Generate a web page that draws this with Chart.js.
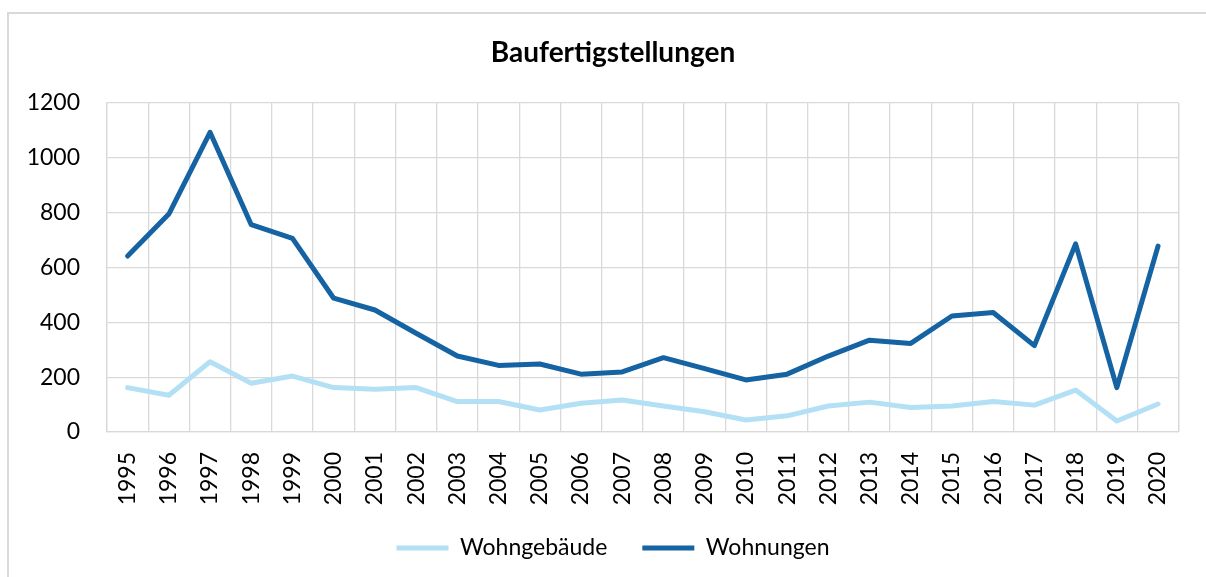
<!DOCTYPE html>
<html lang="de">
<head>
<meta charset="utf-8">
<title>Baufertigstellungen</title>
<script src="https://cdn.jsdelivr.net/npm/chart.js@4/dist/chart.umd.min.js"></script>
<style>
  html, body { margin: 0; padding: 0; background: #ffffff; overflow: hidden; }
  #frame {
    position: absolute; left: 7px; top: 12px; width: 1400px; height: 800px;
    border: 2px solid #d9d9d9; box-sizing: border-box;
  }
  #wrap { position: absolute; left: 0; top: 0; width: 1206px; height: 577px; }
</style>
</head>
<body>
<div id="frame"></div>
<div id="wrap"><canvas id="chart" width="1206" height="577"></canvas></div>
<script>
// Fertiggestellte Wohngebäude und Wohnungen je Jahr
const years = ['1995','1996','1997','1998','1999','2000','2001','2002','2003','2004','2005','2006','2007',
               '2008','2009','2010','2011','2012','2013','2014','2015','2016','2017','2018','2019','2020'];
const wohngebaeude = [162, 134, 256, 178, 204, 162, 156, 162, 111, 111, 80, 105, 117,
                      95, 74, 44, 59, 95, 109, 89, 95, 111, 98, 153, 40, 102];
const wohnungen = [642, 795, 1093, 756, 706, 488, 445, 360, 277, 243, 248, 211, 219,
                   271, 231, 190, 211, 277, 335, 323, 423, 436, 315, 686, 162, 678];
const yTicks = [0, 200, 400, 600, 800, 1000, 1200];

const FONT = 'Lato, "Open Sans", sans-serif';
const GRID = '#d9d9d9';

// tick labels may reach past the axis box (long rotated years, 4-digit values)
const noLabelClip = () => undefined;

new Chart(document.getElementById('chart'), {
  type: 'line',
  data: {
    labels: years,
    datasets: [
      {
        label: 'Wohngebäude',
        data: wohngebaeude,
        borderColor: '#b4e0f5',
        backgroundColor: '#b4e0f5',
        borderWidth: 5,
        borderCapStyle: 'round',
        borderJoinStyle: 'round',
        pointRadius: 0,
        tension: 0
      },
      {
        label: 'Wohnungen',
        data: wohnungen,
        borderColor: '#1563a2',
        backgroundColor: '#1563a2',
        borderWidth: 5,
        borderCapStyle: 'round',
        borderJoinStyle: 'round',
        pointRadius: 0,
        tension: 0
      }
    ]
  },
  options: {
    responsive: false,
    animation: false,
    events: [],
    layout: { padding: { left: 39, right: 19, top: 0, bottom: 7.5 } },
    plugins: {
      title: {
        display: true,
        text: 'Baufertigstellungen',
        color: '#000000',
        font: { family: FONT, size: 28, weight: 'bold', lineHeight: 1.2 },
        padding: { top: 36.6, bottom: 32.8 }
      },
      legend: {
        position: 'bottom',
        labels: {
          color: '#000000',
          font: { family: FONT, size: 23 },
          usePointStyle: true,
          pointStyle: 'line',
          pointStyleWidth: 52,
          padding: 35
        }
      },
      tooltip: { enabled: false }
    },
    scales: {
      x: {
        type: 'category',
        offset: true,
        grid: { color: GRID, lineWidth: 1.3, offset: true, drawTicks: false },
        border: { color: GRID, width: 1.3 },
        ticks: {
          color: '#000000',
          font: { family: FONT, size: 23 },
          minRotation: 90,
          maxRotation: 90,
          autoSkip: false,
          padding: 20
        },
        afterFit(scale) { scale.height = 69.5; scale._computeLabelArea = noLabelClip; }
      },
      y: {
        min: 0,
        max: 1200,
        afterBuildTicks(scale) { scale.ticks = yTicks.map(v => ({ value: v })); },
        grid: { color: GRID, lineWidth: 1.3, drawTicks: false },
        border: { color: GRID, width: 1.3 },
        ticks: {
          color: '#000000',
          font: { family: FONT, size: 23 },
          padding: 27,
          callback: (value) => String(value)
        },
        afterFit(scale) { scale.width = 68; scale._computeLabelArea = noLabelClip; }
      }
    }
  },
  plugins: [{
    id: 'plotFrame',
    afterDraw(chart) {
      const { ctx, chartArea: a } = chart;
      ctx.save();
      ctx.strokeStyle = GRID;
      ctx.lineWidth = 1.3;
      ctx.beginPath();
      ctx.moveTo(a.right, a.top);
      ctx.lineTo(a.right, a.bottom);
      ctx.stroke();
      ctx.restore();
    }
  }]
});
</script>
</body>
</html>
